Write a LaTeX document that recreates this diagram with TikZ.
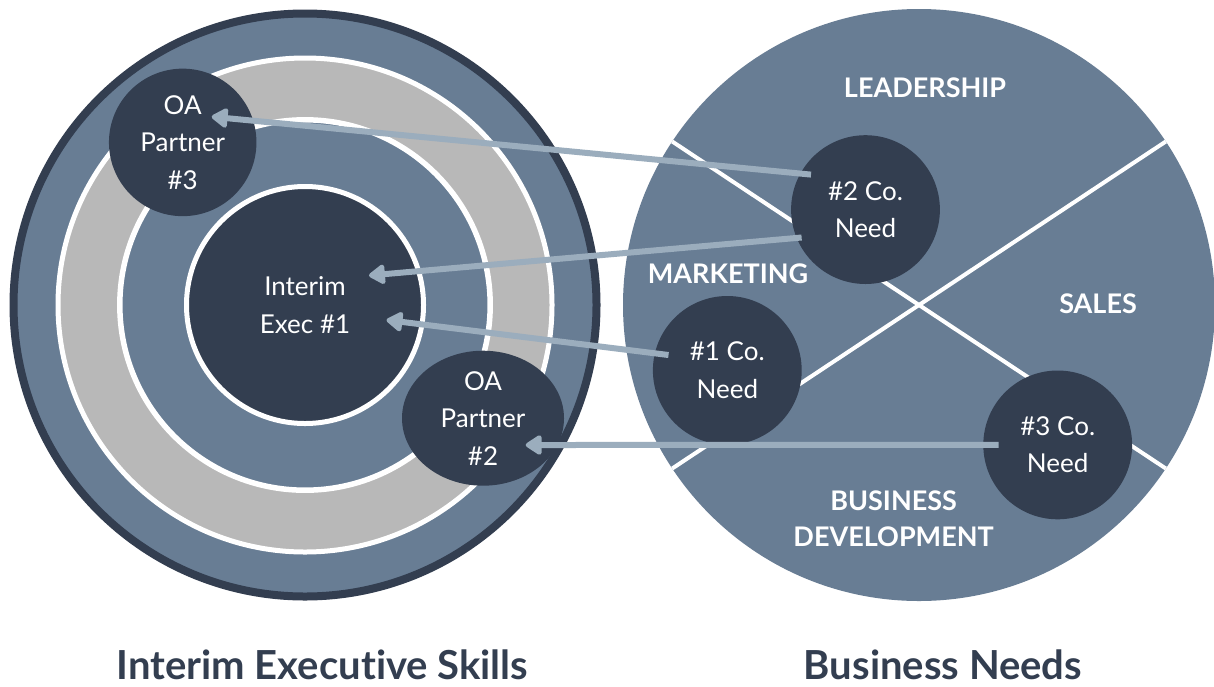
\documentclass[tikz,border=0pt]{standalone}
\usepackage{fontspec}
\setmainfont{Lato}[Ligatures=NoCommon]
\usetikzlibrary{arrows.meta,shapes.geometric,calc}
\definecolor{slate}{HTML}{687D94}
\definecolor{navy}{HTML}{333E50}
\definecolor{ringgrey}{HTML}{B8B8B8}
\definecolor{arrowc}{HTML}{9BADBD}
\begin{document}
\begin{tikzpicture}[x=1pt,y=-1pt,
  dot/.style={circle,fill=navy,inner sep=0pt,minimum size=148.8pt},
  dottext/.style={text=white,align=center,inner sep=0pt,font=\fontsize{26}{37.5}\selectfont},
  cat/.style={text=white,font=\bfseries\fontsize{27}{36}\selectfont,align=center,inner sep=0pt},
  link/.style={draw=arrowc,line width=6pt,-{Triangle[length=18pt,width=22pt,round]}},
  title/.style={text=navy,font=\bfseries\fontsize{40}{44}\selectfont,inner sep=0pt}]
\useasboundingbox (0,0) rectangle (1214,686);
\fill[white] (0,0) rectangle (1214,686);
% left: concentric rings
\draw[navy,fill=slate,line width=8pt] (305,305) circle[radius=291.5pt];
\draw[white,fill=ringgrey,line width=5pt] (305,305) circle[radius=247pt];
\draw[white,fill=slate,line width=5.5pt] (305,305) circle[radius=185.2pt];
\node[dot,draw=white,line width=5pt,minimum size=237pt] (exec) at (305,305) {};
\node[dottext] at (exec) {Interim\\Exec \#1};
\node[dot,minimum size=147.5pt] (oa3) at (182.7,142.4) {};
\node[dottext] at (oa3) {OA\\Partner\\\#3};
\node[ellipse,fill=navy,inner sep=0pt,minimum width=162pt,minimum height=135pt] (oa2) at (483,418.2) {};
\node[dottext] at (oa2) {OA\\Partner\\\#2};
% right: business needs
\fill[slate] (919,305) circle[radius=296pt];
\begin{scope}
\clip (919,305) circle[radius=296pt];
\draw[white,line width=4pt] (660,133.4) -- (1178,476.6);
\draw[white,line width=4pt] (660,476.6) -- (1178,133.4);
\end{scope}
\node[cat] (lead) at (925,88) {LEADERSHIP};
\node[cat] (mkt) at (728,274) {MARKETING};
\node[cat] (sales) at (1098,304) {SALES};
\node[cat] (bd) at (893.6,519) {BUSINESS\\DEVELOPMENT};
\node[dot] (need2) at (865.5,209.6) {};
\node[dottext] at (need2) {\#2 Co.\\Need};
\node[dot] (need1) at (727.3,370.4) {};
\node[dottext] at (need1) {\#1 Co.\\Need};
\node[dot] (need3) at (1057.7,444.9) {};
\node[dottext] at (need3) {\#3 Co.\\Need};
% arrows
\draw[link] ($(need2)+(-54.5,-35)$) -- ($(oa3)+(29,-25.7)$);
\draw[link] ($(need2)+(-63.9,27.9)$) -- ($(exec)+(64,-29.5)$);
\draw[link] ($(need1)+(-58.8,-15.4)$) -- ($(exec)+(81.5,15)$);
\draw[link] ($(need3)+(-59.1,0)$) -- ($(oa2)+(42.7,26.8)$);
% titles
\node[title] (t1) at (322.5,665) {Interim Executive Skills};
\node[title] (t2) at (943,665) {Business Needs};
\end{tikzpicture}
\end{document}
